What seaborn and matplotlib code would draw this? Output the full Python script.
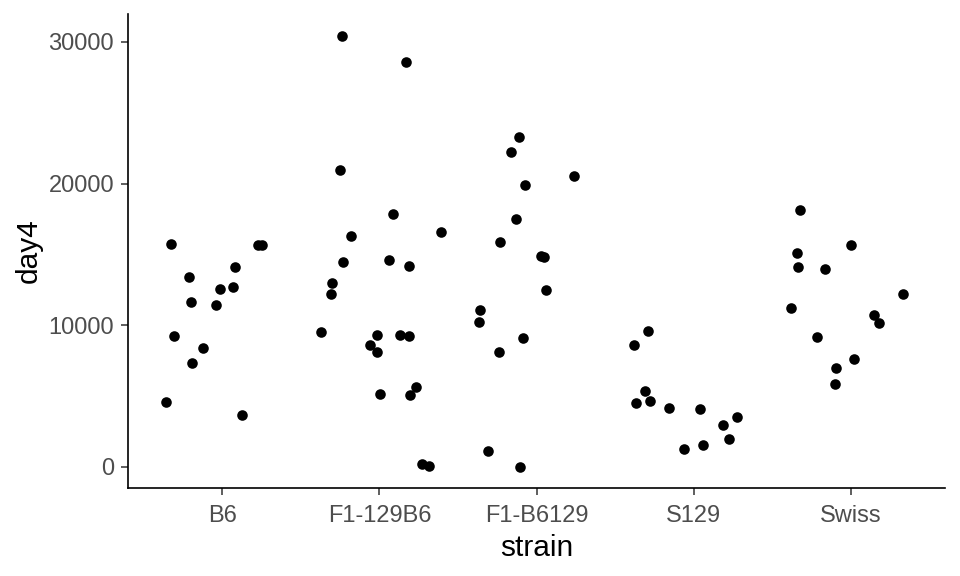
import numpy as np
import pandas as pd
import matplotlib
matplotlib.use("Agg")
import matplotlib.pyplot as plt
import seaborn as sns

# strains in axis order
strains = ["B6", "F1-129B6", "F1-B6129", "S129", "Swiss"]

# day4 values, one list per strain
day4_b6 = [15760, 15690, 15690, 14120, 13410, 12520, 12730, 11670, 11390,
           9250, 8420, 7340, 4540, 3690]
day4_f1_129b6 = [30450, 28590, 20970, 17880, 16330, 16590, 14490, 14610, 14210,
                 13010, 12210, 9550, 9270, 9270, 9200, 8630, 8120, 5170, 5600,
                 5100, 200, 50]
day4_f1_b6129 = [23320, 22240, 20540, 19910, 17530, 15880, 14890, 14780, 12490,
                 11080, 10190, 9110, 8120, 1130, 0]
day4_s129 = [9600, 8630, 5320, 4470, 4610, 4120, 4050, 3480, 2920, 1930, 1570, 1220]
day4_swiss = [18160, 15690, 15130, 14120, 13980, 12230, 11180, 10730, 10120,
              9160, 7620, 6940, 5880]

# horizontal jitter of each point (in category units), as seen in the reference
jit_b6 = [-0.328, 0.227, 0.252, 0.079, -0.213, -0.017, 0.066, -0.201, -0.042,
          -0.307, -0.123, -0.194, -0.357, 0.125]
jit_f1_129b6 = [-0.241, 0.172, -0.251, 0.085, -0.183, 0.390, -0.234, 0.064, 0.187,
                -0.302, -0.310, -0.374, -0.012, 0.131, 0.187, -0.057, -0.018,
                0.001, 0.236, 0.197, 0.269, 0.316]
jit_f1_b6129 = [-0.109, -0.160, 0.240, -0.076, -0.133, -0.230, 0.030, 0.047, 0.062,
                -0.357, -0.363, -0.084, -0.236, -0.310, -0.103]
jit_s129 = [-0.291, -0.380, -0.308, -0.367, -0.278, -0.157, 0.039, 0.278, 0.185,
            0.223, 0.058, -0.060]
jit_swiss = [-0.320, -0.001, -0.343, -0.337, -0.166, 0.334, -0.377, 0.150, 0.183,
             -0.217, 0.018, -0.091, -0.102]

values = [day4_b6, day4_f1_129b6, day4_f1_b6129, day4_s129, day4_swiss]
jitters = [jit_b6, jit_f1_129b6, jit_f1_b6129, jit_s129, jit_swiss]

rows = []
for i, (s, vals, jit) in enumerate(zip(strains, values, jitters)):
    for v, j in zip(vals, jit):
        rows.append({"strain": s, "pos": i + j, "day4": v})
df = pd.DataFrame(rows)

sns.set_theme(style="ticks")
plt.rcParams["font.family"] = ["Liberation Sans", "DejaVu Sans"]

fig = plt.figure(figsize=(9.6, 5.76), dpi=100)
ax = fig.add_axes([128 / 960, (576 - 488) / 576, (945 - 128) / 960, (488 - 14) / 576])

sns.scatterplot(data=df, x="pos", y="day4", color="black", s=58,
                linewidth=0, ax=ax, legend=False)

ax.set_xlim(-0.6, len(strains) - 0.4)
ax.set_ylim(-1500, 31975)
ax.set_xticks(range(len(strains)))
ax.set_xticklabels(strains)
ax.set_yticks([0, 10000, 20000, 30000])
ax.set_yticklabels(["0", "10000", "20000", "30000"])
ax.set_xlabel("strain", fontsize=21.5, color="black", labelpad=5)
ax.set_ylabel("day4", fontsize=21.5, color="black", labelpad=4)
ax.tick_params(axis="both", labelsize=17, labelcolor="#4D4D4D", color="#333333",
               length=5, width=1.1)
ax.tick_params(axis="x", pad=7)
ax.tick_params(axis="y", pad=5)

for side in ["top", "right"]:
    ax.spines[side].set_visible(False)
for side in ["left", "bottom"]:
    ax.spines[side].set_color("black")
    ax.spines[side].set_linewidth(1.2)

plt.savefig("out.png", dpi=100)
plt.close("all")
